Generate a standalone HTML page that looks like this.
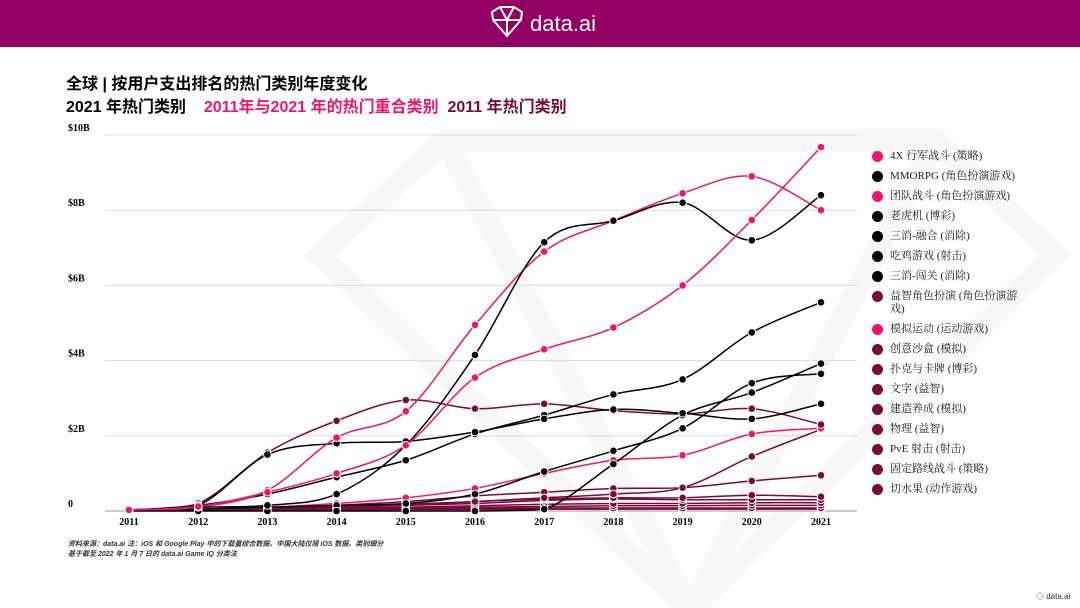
<!DOCTYPE html>
<html><head><meta charset="utf-8"><style>
body{margin:0;width:1080px;height:608px;overflow:hidden;background:#fff;font-family:"Liberation Sans","Noto Sans CJK SC",sans-serif;position:relative}
.hdr{position:absolute;left:0;top:0;width:1080px;height:47px;background:#920062}
.t{position:absolute;left:66px;font-weight:bold;font-size:16px;white-space:nowrap}
.lg{position:absolute;left:870px;font-family:"Liberation Serif","Noto Serif CJK SC",serif;font-size:11px;color:#222;width:150px}
.lg div{position:relative;padding-left:20px;line-height:13px;margin-bottom:7px}
.lg span{position:absolute;left:2px;top:1px;width:11px;height:11px;border-radius:50%}
.fn{position:absolute;left:68px;font-size:7px;font-style:italic;font-weight:bold;color:#333}
</style></head><body>
<div class="hdr">
<svg width="1080" height="47"><g fill="none" stroke="#fff" stroke-width="2"><polygon points="492,12 500,7 514,7 522,12 521,20 507,36 493,20"/><path d="M500,7 L507,20 L514,7 M493,20 L521,20 M507,20 L507,36"/></g><text x="530" y="31" fill="#fff" font-size="22" font-family="Liberation Sans">data.ai</text></svg></div>
<div class="t" style="top:70px">全球 | 按用户支出排名的热门类别年度变化</div>
<div class="t" style="top:93px"><span style="color:#000">2021 年热门类别</span>&nbsp;&nbsp;&nbsp;&nbsp;<span style="color:#f0146e">2011年与2021 年的热门重合类别</span>&nbsp;&nbsp;<span style="color:#7a0a3a">2011 年热门类别</span></div>
<svg id="ch" width="1080" height="608" style="position:absolute;left:0;top:0">
<g fill="none" stroke="#f7f7f7" stroke-width="22"><polygon points="320,255 445,140 935,140 1055,255 690,610"/><path d="M445,140 L690,610 L935,140"/></g>
</svg>
<div class="lg" style="top:150px" id="lg"></div>
<div class="fn" style="top:539px">资料来源：data.ai 注：iOS 和 Google Play 中的下载量综合数据。中国大陆仅限 iOS 数据。类别细分</div>
<div class="fn" style="top:549px">基于截至 2022 年 1 月 7 日的 data.ai Game IQ 分类法</div>
<div style="position:absolute;left:1036px;top:591px;font-size:8px;color:#333">◇ data.ai</div>
<script>
const years=[2011,2012,2013,2014,2015,2016,2017,2018,2019,2020,2021];
const yTicks=[0,2,4,6,8,10];
const yTickLabels=["0","$2B","$4B","$6B","$8B","$10B"];
const names=["4X 行军战斗 (策略)","MMORPG (角色扮演游戏)","团队战斗 (角色扮演游戏)","老虎机 (博彩)","三消-融合 (消除)","吃鸡游戏 (射击)","三消-闯关 (消除)","益智角色扮演 (角色扮演游戏)","模拟运动 (运动游戏)","创意沙盒 (模拟)","扑克与卡牌 (博彩)","文字 (益智)","建造养成 (模拟)","物理 (益智)","PvE 射击 (射击)","固定路线战斗 (策略)","切水果 (动作游戏)"];
const groups=["p","b","p","b","b","b","b","m","p","m","m","m","m","m","m","m","m"];
const s0=[0.03,0.12,0.5,1.0,1.75,3.55,4.3,4.88,6.0,7.74,9.68];
const s1=[0.03,0.1,0.15,0.45,1.75,4.15,7.15,7.72,8.2,7.2,8.4];
const s2=[0.03,0.1,0.55,1.95,2.65,4.95,6.9,7.72,8.45,8.9,8.0];
const s3=[0.03,0.15,1.5,1.8,1.85,2.1,2.45,2.7,2.6,2.45,2.85];
const s4=[0.02,0.15,0.45,0.9,1.35,2.05,2.55,3.1,3.5,4.75,5.55];
const s5=[0,0,0,0,0,0,0.05,1.25,2.55,3.15,3.92];
const s6=[0.02,0.05,0.1,0.15,0.2,0.45,1.05,1.6,2.2,3.4,3.65];
const s7=[0.03,0.2,1.55,2.4,2.95,2.72,2.85,2.67,2.58,2.72,2.3];
const s8=[0.02,0.05,0.1,0.2,0.35,0.6,1.0,1.35,1.48,2.05,2.2];
const s9=[0.01,0.02,0.05,0.1,0.15,0.25,0.35,0.45,0.62,1.45,2.17];
const s10=[0.01,0.03,0.08,0.15,0.25,0.4,0.5,0.6,0.62,0.8,0.95];
const s11=[0.01,0.03,0.07,0.12,0.18,0.25,0.32,0.35,0.35,0.42,0.38];
const s12=[0.01,0.02,0.05,0.1,0.15,0.2,0.28,0.32,0.3,0.3,0.3];
const s13=[0.01,0.02,0.04,0.07,0.1,0.14,0.18,0.2,0.2,0.22,0.22];
const s14=[0.01,0.02,0.03,0.05,0.08,0.1,0.12,0.14,0.14,0.15,0.15];
const s15=[0.01,0.02,0.03,0.04,0.05,0.07,0.08,0.08,0.08,0.08,0.08];
const s16=[0.01,0.01,0.02,0.03,0.04,0.04,0.05,0.05,0.05,0.05,0.05];
const series=[s0,s1,s2,s3,s4,s5,s6,s7,s8,s9,s10,s11,s12,s13,s14,s15,s16];
const col={p:"#f0146e",b:"#000",m:"#7a0a3a"};
const X=i=>129+i*69.2, Y=v=>511-v*37.6;
const svg=document.getElementById('ch'),NS="http://www.w3.org/2000/svg";
function mk(t,a){const e=document.createElementNS(NS,t);for(const k in a)e.setAttribute(k,a[k]);svg.appendChild(e);return e;}
yTicks.forEach((t,i)=>{
 const l=mk('line',{x1:105,x2:857,y1:Y(t),y2:Y(t),stroke:t?"#dcdcdc":"#999","stroke-width":1});
 
 
 const tx=mk('text',{x:68,y:Y(t)-4,"font-size":10,"font-weight":"bold","font-family":"Liberation Serif"});tx.textContent=yTickLabels[i];
 
 
});
years.forEach((y,i)=>{const tx=mk('text',{x:X(i),y:525,"font-size":10,"font-weight":"bold","text-anchor":"middle","font-family":"Liberation Serif"});tx.textContent=y;
 
 });
function path(v){const p=v.map((d,i)=>[X(i),Y(d)]);let s="M"+p[0];for(let i=0;i<p.length-1;i++){const a=p[i-1]||p[i],b=p[i],c=p[i+1],d=p[i+2]||c;let y1=b[1]+(c[1]-a[1])/6,y2=c[1]-(d[1]-b[1])/6;y1=Math.min(y1,511);y2=Math.min(y2,511);s+=` C${b[0]+(c[0]-a[0])/6},${y1} ${c[0]-(d[0]-b[0])/6},${y2} ${c[0]},${c[1]}`;}return s;}
for(let k=series.length-1;k>=0;k--){const v=series[k],c=col[groups[k]];
 const p=mk('path',{d:path(v),fill:"none",stroke:c,"stroke-width":1.5});
 
 
 v.forEach((d,i)=>{const ci=mk('circle',{cx:X(i),cy:Y(d),r:3.8,fill:c,stroke:"#fff","stroke-width":1});
 
 });}
const lg=document.getElementById('lg');
names.forEach((n,k)=>{const d=document.createElement('div');d.innerHTML=`<span style="background:${col[groups[k]]}"></span>${n}`;
 
 
 lg.appendChild(d);});
</script>
</body></html>
